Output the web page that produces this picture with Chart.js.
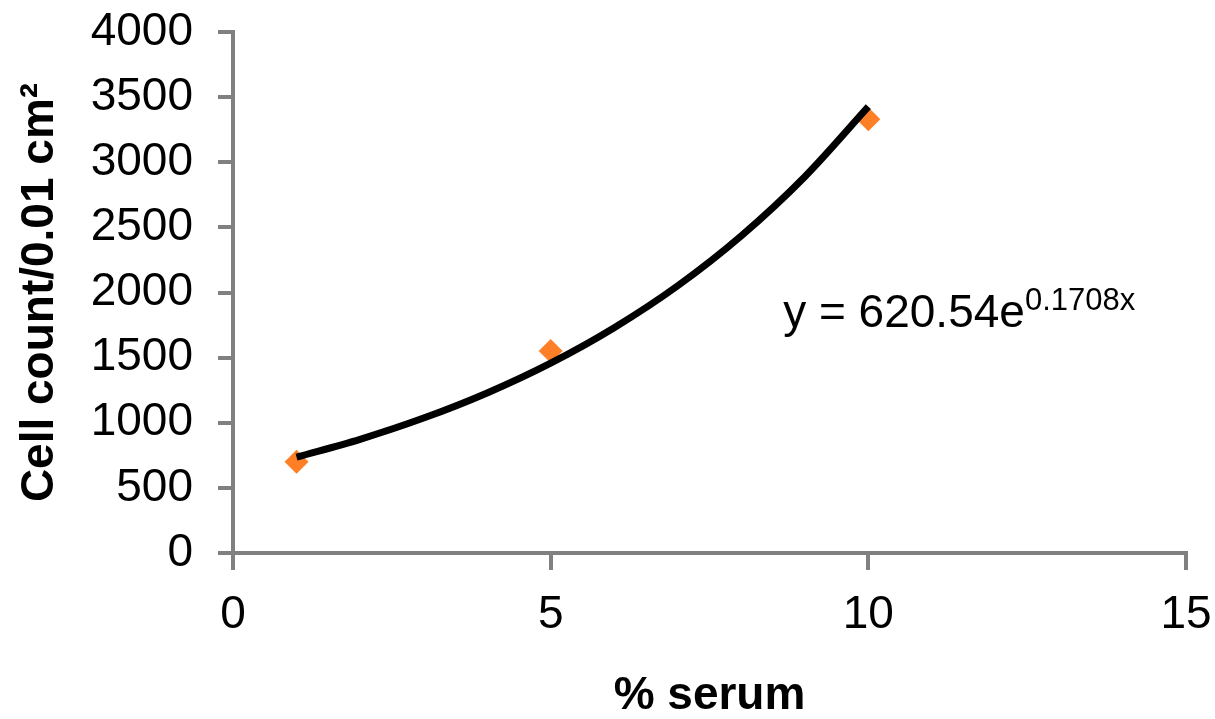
<!DOCTYPE html>
<html>
<head>
<meta charset="utf-8">
<script src="https://cdn.jsdelivr.net/npm/chart.js@4"></script>
<style>
  html, body { margin: 0; padding: 0; background: #fff; }
  #wrap { width: 1215px; height: 719px; }
</style>
</head>
<body>
<div id="wrap"><canvas id="chart" width="1215" height="719"></canvas></div>
<script>
// measured points (% serum vs cell count)
const serum = [1, 5, 10];
const cellCount = [700, 1550, 3330];

// exponential trendline at each whole %
const trendX = [1, 2, 3, 4, 5, 6, 7, 8, 9, 10];
const trendY = [736, 873, 1036, 1229, 1458, 1730, 2052, 2435, 2889, 3427];

const xTicks = [0, 5, 10, 15];
const yTicks = [0, 500, 1000, 1500, 2000, 2500, 3000, 3500, 4000];

const equationMain = 'y = 620.54e';
const equationSup = '0.1708x';
const equationAt = { x: 8.66, y: 1735 };

const FONT = '"Liberation Sans", Arial, sans-serif';
const AXIS = '#808080';

// trendline equation label
const equationPlugin = {
    id: 'equation',
    afterDatasetsDraw(chart) {
        const { ctx, scales } = chart;
        const px = scales.x.getPixelForValue(equationAt.x);
        const py = scales.y.getPixelForValue(equationAt.y);
        ctx.save();
        ctx.fillStyle = '#000';
        ctx.textBaseline = 'alphabetic';
        ctx.textAlign = 'left';
        ctx.font = '46px ' + FONT;
        ctx.fillText(equationMain, px, py);
        const w = ctx.measureText(equationMain).width;
        ctx.font = '31px ' + FONT;
        ctx.fillText(equationSup, px + w, py - 17);
        ctx.restore();
    }
};

new Chart(document.getElementById('chart'), {
    type: 'scatter',
    data: {
        datasets: [
            {
                label: 'Trend',
                type: 'line',
                data: trendX.map((x, i) => ({ x: x, y: trendY[i] })),
                borderColor: '#000',
                borderWidth: 7,
                pointRadius: 0,
                cubicInterpolationMode: 'monotone',
                fill: false,
                order: 0
            },
            {
                label: 'Cell count',
                data: serum.map((x, i) => ({ x: x, y: cellCount[i] })),
                pointStyle: 'rectRot',
                pointRadius: 12,
                backgroundColor: '#FF7F27',
                borderColor: '#FF7F27',
                borderWidth: 0,
                order: 1
            }
        ]
    },
    options: {
        responsive: false,
        animation: false,
        layout: { padding: { left: 0, right: 29, top: 32, bottom: 0 } },
        plugins: {
            legend: { display: false },
            tooltip: { enabled: false }
        },
        scales: {
            x: {
                type: 'linear',
                min: 0,
                max: 15,
                afterBuildTicks(scale) {
                    scale.ticks = xTicks.map(v => ({ value: v }));
                },
                afterFit(scale) {
                    scale.height = 166;
                    scale.paddingLeft = 0;
                    scale.paddingRight = 0;
                },
                grid: {
                    drawOnChartArea: false,
                    drawTicks: true,
                    tickLength: 17,
                    color: AXIS,
                    lineWidth: 4
                },
                border: { color: AXIS, width: 4 },
                ticks: {
                    color: '#000',
                    padding: 22,
                    maxRotation: 0,
                    callback: v => String(v),
                    font: { family: FONT, size: 46, lineHeight: 1 }
                },
                title: {
                    display: true,
                    text: '% serum',
                    color: '#000',
                    padding: 0,
                    font: { family: FONT, size: 46, weight: 'bold', lineHeight: 1 }
                }
            },
            y: {
                type: 'linear',
                min: 0,
                max: 4000,
                afterBuildTicks(scale) {
                    scale.ticks = yTicks.map(v => ({ value: v }));
                },
                afterFit(scale) {
                    scale.width = 233;
                    scale.paddingTop = 0;
                    scale.paddingBottom = 0;
                },
                grid: {
                    drawOnChartArea: false,
                    drawTicks: true,
                    tickLength: 15,
                    color: AXIS,
                    lineWidth: 4
                },
                border: { color: AXIS, width: 4 },
                ticks: {
                    color: '#000',
                    padding: 25,
                    callback: v => String(v),
                    font: { family: FONT, size: 46, lineHeight: 1 }
                },
                title: {
                    display: true,
                    text: 'Cell count/0.01 cm²',
                    color: '#000',
                    padding: { top: 17, bottom: 0 },
                    font: { family: FONT, size: 46, weight: 'bold', lineHeight: 1 }
                }
            }
        }
    },
    plugins: [equationPlugin]
});
</script>
</body>
</html>
